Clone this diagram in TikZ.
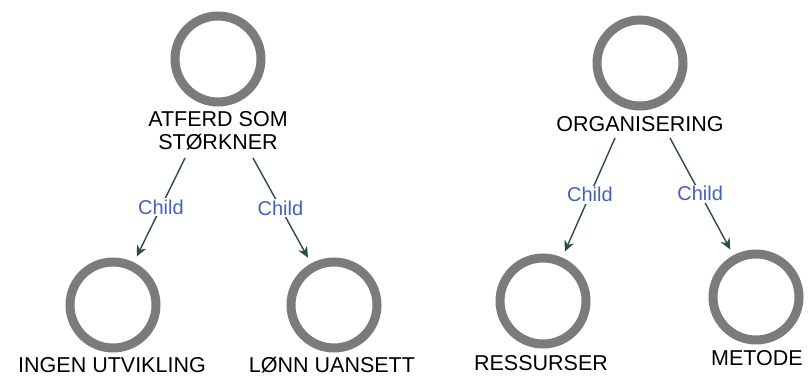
\documentclass[tikz,border=0pt]{standalone}
\usepackage{fontspec}
\setmainfont{Liberation Sans}
\usetikzlibrary{arrows.meta}
\definecolor{ringgray}{HTML}{7B7B7B}
\definecolor{edgecol}{HTML}{2F4A46}
\definecolor{labelblue}{HTML}{4563B5}
\begin{document}
\begin{tikzpicture}[x=1pt,y=-1pt,
  ring/.style={circle,draw=ringgray,line width=9pt,minimum size=86pt,inner sep=0pt,outer sep=11pt},
  caption/.style={font=\fontsize{21.5}{23}\selectfont,inner sep=0pt,align=center,text=black},
  edge/.style={draw=edgecol,line width=1.4pt,-{Stealth[length=11pt,width=10pt]}},
  tag/.style={font=\fontsize{20}{22}\selectfont,text=labelblue,fill=white,inner sep=1.5pt}]
\useasboundingbox (0,0) rectangle (810,377);

% left tree
\node[ring] (atferd) at (218,59) {};
\node[caption,anchor=north] (atferdtxt) at (218,111) {ATFERD SOM\\STØRKNER};
\node[ring] (ingen) at (113,305) {};
\node[caption,anchor=base] (ingentxt) at (112,372) {INGEN UTVIKLING};
\node[ring] (lonn) at (334,305) {};
\node[caption,anchor=base] (lonntxt) at (332,372) {LØNN UANSETT};
\coordinate (a1) at (185,158);
\coordinate (a2) at (253,158);
\draw[edge] (a1) -- node[tag] {Child} (ingen);
\draw[edge] (a2) -- node[tag] {Child} (lonn);

% right tree
\node[ring] (org) at (640,63) {};
\node[caption,anchor=base] (orgtxt) at (640,131) {ORGANISERING};
\node[ring] (res) at (543,301) {};
\node[caption,anchor=base] (restxt) at (541,370) {RESSURSER};
\node[ring] (met) at (756,297) {};
\node[caption,anchor=base] (mettxt) at (757,365) {METODE};
\coordinate (o1) at (615,138);
\coordinate (o2) at (670,138);
\draw[edge] (o1) -- node[tag] {Child} (res);
\draw[edge] (o2) -- node[tag] {Child} (met);
\end{tikzpicture}
\end{document}
